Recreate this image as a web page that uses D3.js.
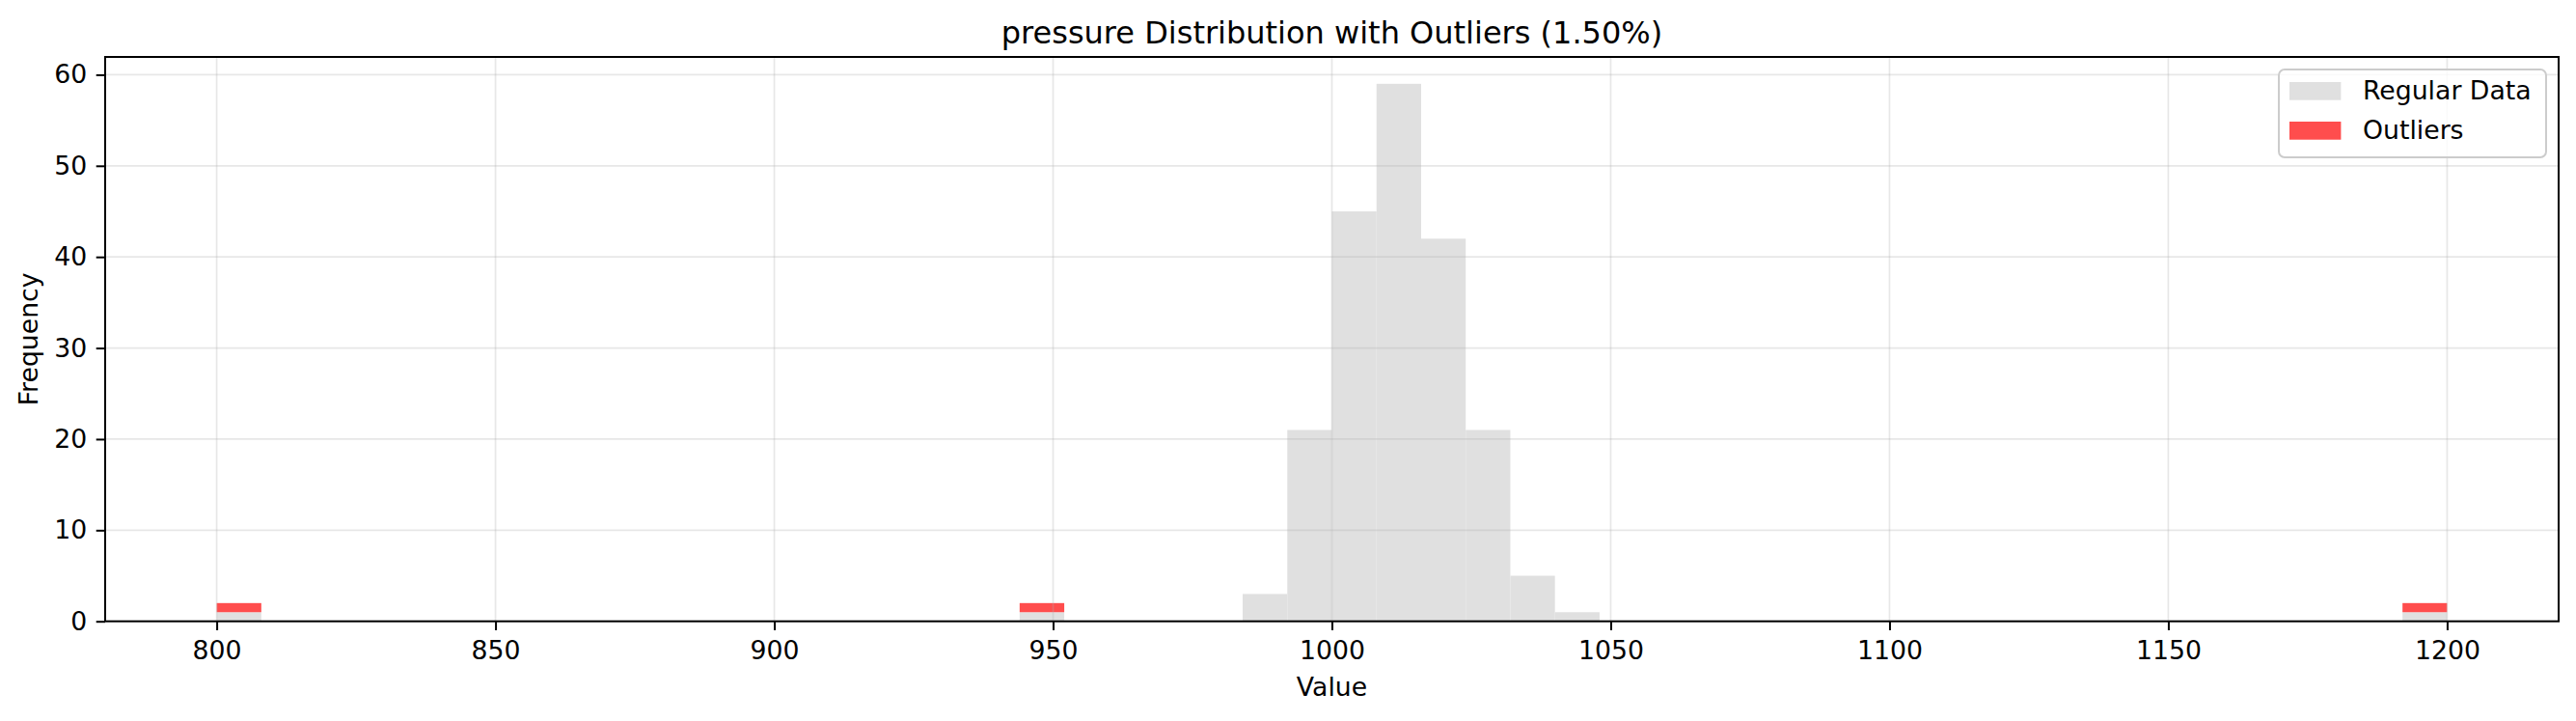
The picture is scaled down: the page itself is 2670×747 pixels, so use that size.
<!DOCTYPE html>
<html>
<head>
<meta charset="utf-8">
<script src="https://cdn.jsdelivr.net/npm/d3@7"></script>
<style>
  body { margin: 0; background: #fff; }
  svg { font-family: "DejaVu Sans", sans-serif; }
</style>
</head>
<body>
<svg id="chart" width="2670" height="747"></svg>
<script>
// Histogram bins (left edge, bin width 8) with counts.
const binWidth = 8;
const regularBins = [800, 944, 984, 992, 1000, 1008, 1016, 1024, 1032, 1040, 1192];
const regularCounts = [1, 1, 3, 21, 45, 59, 42, 21, 5, 1, 1];
const outlierBins = [800, 944, 1192];
const outlierCounts = [1, 1, 1];

const xTicks = [800, 850, 900, 950, 1000, 1050, 1100, 1150, 1200];
const yTicks = [0, 10, 20, 30, 40, 50, 60];

const titleText = 'pressure Distribution with Outliers (1.50%)';
const legendItems = [
    { label: 'Regular Data', color: '#e0e0e0' },
    { label: 'Outliers', color: '#ff4d4d' }
];

const fontSize = 26.7;
const margin = { left: 109, right: 2652, top: 59, bottom: 643.7 };
const svg = d3.select('#chart');

const x = d3.scaleLinear().domain([780, 1220]).range([margin.left, margin.right]);
const y = d3.scaleLinear().domain([0, 61.95]).range([margin.bottom, margin.top]);

const regular = regularBins.map((b, i) => ({ x0: b, count: regularCounts[i] }));
const base = new Map(regular.map(d => [d.x0, d.count]));
const outliers = outlierBins.map((b, i) => ({
    x0: b, count: outlierCounts[i], bottom: base.get(b) || 0
}));

// bars
svg.append('g').selectAll('rect')
    .data(regular)
    .join('rect')
    .attr('x', d => x(d.x0))
    .attr('width', d => x(d.x0 + binWidth) - x(d.x0))
    .attr('y', d => y(d.count))
    .attr('height', d => y(0) - y(d.count))
    .attr('fill', '#e0e0e0');

svg.append('g').selectAll('rect')
    .data(outliers)
    .join('rect')
    .attr('x', d => x(d.x0))
    .attr('width', d => x(d.x0 + binWidth) - x(d.x0))
    .attr('y', d => y(d.bottom + d.count))
    .attr('height', d => y(d.bottom) - y(d.bottom + d.count))
    .attr('fill', '#ff4d4d');

// grid sits above the bars, like matplotlib's default
const grid = svg.append('g')
    .attr('stroke', '#b0b0b0')
    .attr('stroke-opacity', 0.3)
    .attr('stroke-width', 1.7);
grid.selectAll('.gx').data(xTicks).join('line')
    .attr('x1', d => x(d)).attr('x2', d => x(d))
    .attr('y1', margin.top).attr('y2', margin.bottom);
grid.selectAll('.gy').data(yTicks).join('line')
    .attr('y1', d => y(d)).attr('y2', d => y(d))
    .attr('x1', margin.left).attr('x2', margin.right);

// axes
const xAxis = svg.append('g')
    .attr('transform', `translate(0,${margin.bottom})`)
    .call(d3.axisBottom(x).tickValues(xTicks).tickSize(9.3).tickPadding(11).tickFormat(d3.format('d')));
const yAxis = svg.append('g')
    .attr('transform', `translate(${margin.left},0)`)
    .call(d3.axisLeft(y).tickValues(yTicks).tickSize(9.3).tickPadding(9.5).tickFormat(d3.format('d')));

[xAxis, yAxis].forEach(ax => {
    ax.select('.domain').remove();
    ax.selectAll('.tick line').attr('stroke', '#000').attr('stroke-width', 2);
    ax.selectAll('.tick text')
        .attr('fill', '#000')
        .style('font-size', fontSize + 'px')
        .style('font-family', '"DejaVu Sans", sans-serif');
});

// spines
svg.append('rect')
    .attr('x', margin.left).attr('y', margin.top)
    .attr('width', margin.right - margin.left)
    .attr('height', margin.bottom - margin.top)
    .attr('fill', 'none')
    .attr('stroke', '#000')
    .attr('stroke-width', 2);

// labels
const cx = (margin.left + margin.right) / 2;
svg.append('text')
    .attr('x', cx).attr('y', 44.5)
    .attr('text-anchor', 'middle')
    .style('font-size', '32px')
    .text(titleText);

svg.append('text')
    .attr('x', cx).attr('y', 721)
    .attr('text-anchor', 'middle')
    .style('font-size', fontSize + 'px')
    .text('Value');

svg.append('text')
    .attr('transform', `translate(39,${(margin.top + margin.bottom) / 2}) rotate(-90)`)
    .attr('text-anchor', 'middle')
    .style('font-size', fontSize + 'px')
    .text('Frequency');

// legend
const legend = svg.append('g');
legend.append('rect')
    .attr('x', 2362).attr('y', 72)
    .attr('width', 277).attr('height', 91)
    .attr('rx', 6)
    .attr('fill', '#fff').attr('fill-opacity', 0.8)
    .attr('stroke', '#cccccc').attr('stroke-width', 2);

const rows = legend.selectAll('g.item')
    .data(legendItems)
    .join('g')
    .attr('class', 'item')
    .attr('transform', (d, i) => `translate(0,${i * 41})`);
rows.append('rect')
    .attr('x', 2373).attr('y', 85)
    .attr('width', 53.4).attr('height', 18.7)
    .attr('fill', d => d.color);
rows.append('text')
    .attr('x', 2449).attr('y', 103.3)
    .style('font-size', fontSize + 'px')
    .text(d => d.label);
</script>
</body>
</html>
